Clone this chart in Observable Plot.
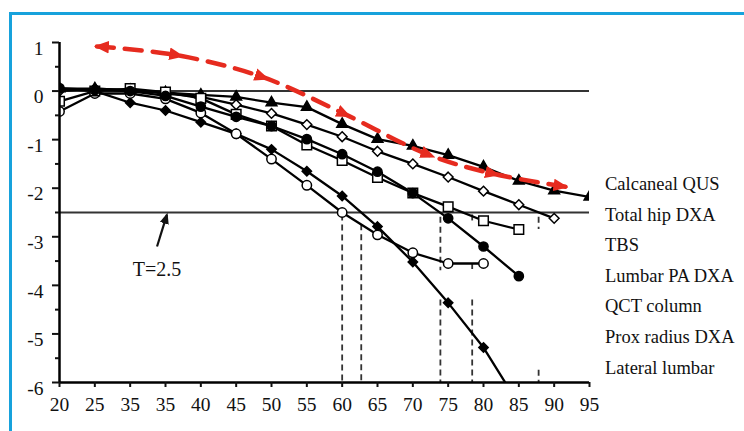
<!DOCTYPE html>
<html><head><meta charset="utf-8">
<script src="https://cdn.jsdelivr.net/npm/d3@7"></script>
<script src="https://cdn.jsdelivr.net/npm/@observablehq/plot@0.6"></script>
<style>
body{margin:0;background:#fff;}
#wrap{position:relative;width:744px;height:431px;overflow:hidden;font-family:"Liberation Serif",serif;}
#frame{position:absolute;left:9px;top:12px;width:800px;height:500px;border-left:3px solid #17a2dc;border-top:3px solid #17a2dc;}
#chart{position:absolute;left:0;top:0;}
#labels{position:absolute;left:605px;top:169px;font-size:18.5px;line-height:30.6px;color:#111;white-space:nowrap;}
</style></head><body>
<div id="wrap"><div id="frame"></div><div id="chart"></div><div id="labels"></div></div>
<script>
// ---- data ----
const ages = [20,25,30,35,40,45,50,55,60,65,70,75,80,85,90,95];
const xTickValues = [20,25,30,35,40,45,50,55,60,65,70,75,80,85,90,95];
const xTickLabels = ["20","25","35","35","40","45","50","55","60","65","70","75","80","85","90","95"];
const yTickValues = [1,0,-1,-2,-3,-4,-5,-6];
const yMinorTicks = [0.5,-0.5,-1.5,-2.5,-3.5,-4.5,-5.5];
const legendLabels = ["Calcaneal QUS","Total hip DXA","TBS","Lumbar PA DXA","QCT column","Prox radius DXA","Lateral lumbar"];

const calcanealQUS = [0.05,0.05,0.02,-0.03,-0.08,-0.12,-0.24,-0.33,-0.68,-0.99,-1.13,-1.32,-1.56,-1.85,-2.05,-2.18];
const totalHipDXA  = [0.0,0.05,0.02,-0.05,-0.12,-0.28,-0.46,-0.69,-0.94,-1.24,-1.5,-1.77,-2.06,-2.34,-2.62,null];
const tbs          = [-0.21,0.0,0.05,-0.02,-0.15,-0.48,-0.72,-1.11,-1.43,-1.78,-2.1,-2.38,-2.67,-2.85,null,null];
const lumbarPADXA  = [0.06,0.02,0.0,-0.1,-0.32,-0.53,-0.72,-0.99,-1.3,-1.66,-2.1,-2.62,-3.2,-3.81,null,null];
const proxRadius   = [-0.42,-0.05,-0.05,-0.16,-0.45,-0.88,-1.4,-1.94,-2.5,-2.96,-3.33,-3.55,-3.55,null,null,null];
const lateralLumbar= [0.05,0.0,-0.24,-0.4,-0.64,-0.88,-1.2,-1.65,-2.16,-2.79,-3.52,-4.36,-5.28,-6.45,null,null];

// red dashed trend annotation
const redAge = [25.3,36.6,48.7,60.3,72.2,81.3,91.6];
const redT   = [0.92,0.74,0.29,-0.47,-1.31,-1.70,-1.97];

// dashed verticals where curves cross T = -2.5
const dashAge    = [60,62.7,73.9,73.9,78.4,78.4,78.4,87.8,87.8];
const dashTop    = [-2.55,-2.75,-2.6,-4.3,-2.55,-3.55,-4.3,-2.6,-5.75];
const dashBottom = [-6,-6,-3.7,-6,-2.72,-3.72,-6,-2.85,-6];

const referenceLines = [0,-2.5];
const tArrowAge = [33.8], tArrowFrom = [-3.2], tArrowTo = [-2.55];
const tLabelAge = [33.8], tLabelT = [-3.67], tLabelText = ["T=2.5"];

// ---- build ----
const seriesList = [
  {name:"Total hip DXA", values: totalHipDXA, symbol:"diamond2", fill:"white", r:4.4},
  {name:"Calcaneal QUS", values: calcanealQUS, symbol:"triangle", fill:"black", r:4.0},
  {name:"Lateral lumbar", values: lateralLumbar, symbol:"diamond2", fill:"black", r:4.2},
  {name:"Prox radius DXA", values: proxRadius, symbol:"circle", fill:"white", r:4.7},
  {name:"TBS", values: tbs, symbol:"square", fill:"white", r:5.4},
  {name:"Lumbar PA DXA", values: lumbarPADXA, symbol:"circle", fill:"black", r:4.6}
];
const rows = [];
seriesList.forEach(s => s.values.forEach((v,i) => { if (v != null) rows.push({name:s.name, age:ages[i], t:v}); }));

function triMarker(refX, w) {
  return (color) => {
    const m = d3.create("svg:marker")
      .attr("viewBox","-5 -5 10 10").attr("markerUnits","userSpaceOnUse")
      .attr("markerWidth", w).attr("markerHeight", w)
      .attr("refX", refX).attr("refY", 0)
      .attr("orient","auto-start-reverse");
    m.append("path").attr("d","M-5,-4.2L5,0L-5,4.2Z").attr("fill", color).attr("stroke","none");
    return m.node();
  };
}

const redRows = redAge.map((a,i) => ({age:a, t:redT[i]}));
const dashIdx = dashAge.map((_,i) => i);

const marks = [
  Plot.ruleY(referenceLines, {stroke:"#333", strokeWidth:1.9}),
  Plot.ruleX(dashIdx, {x: i => dashAge[i], y1: i => dashTop[i], y2: i => dashBottom[i], stroke:"#333", strokeWidth:1.8, strokeDasharray:"6,4"}),
  Plot.line(rows, {x:"age", y:"t", z:"name", stroke:"#000", strokeWidth:2.3, clip:true}),
  ...seriesList.map(s => Plot.dot(rows.filter(d => d.name === s.name), {x:"age", y:"t", symbol:()=>s.symbol, r:s.r, fill:s.fill, stroke:"#000", strokeWidth:1.5, clip:true})),
  Plot.line(redRows, {x:"age", y:"t", stroke:"#e62b1f", strokeWidth:4.5, strokeDasharray:"17,11", curve:"catmull-rom",
    markerStart: triMarker(3, 15), markerMid: triMarker(0, 15), markerEnd: triMarker(3, 15)}),
  Plot.link([0], {x1: i => tArrowAge[i], y1: i => tArrowFrom[i], x2: i => tArrowAge[i] + 1.4, y2: i => tArrowTo[i], stroke:"#111", strokeWidth:2.2, markerEnd: triMarker(3, 11)}),
  Plot.text([0], {x: i => tLabelAge[i], y: i => tLabelT[i], text: i => tLabelText[i], fontSize:20, fill:"#111"}),
  Plot.ruleX([20], {stroke:"#000", strokeWidth:2.5}),
  Plot.ruleY([-6], {stroke:"#000", strokeWidth:2.5}),
  Plot.axisX({ticks: xTickValues, tickSize:5, tickPadding:10, strokeWidth:2, fontSize:19.5, label:null, tickFormat: d => xTickLabels[xTickValues.indexOf(d)]}),
  Plot.axisY({ticks: yTickValues, tickSize:7, strokeWidth:2, label:null, tickFormat: () => ""}),
  Plot.axisY({ticks: yMinorTicks, tickSize:4, strokeWidth:2, label:null, tickFormat: () => ""}),
  Plot.axisY({ticks: yTickValues, tickSize:0, tickPadding:16, dy:6, fontSize:19.5, label:null, tickFormat: d => String(d)})
];

const chart = Plot.plot({
  width: 744, height: 431,
  marginLeft: 59, marginRight: 155, marginTop: 42, marginBottom: 49,
  x: {type:"linear", domain:[20,95], label:null},
  y: {type:"linear", domain:[-6,1], label:null},
  style: {fontFamily:"Liberation Serif, serif", fontSize:"19px", color:"#111", background:"transparent"},
  marks
});
document.getElementById("chart").appendChild(chart);
document.getElementById("labels").innerHTML = legendLabels.map(l => `<div>${l}</div>`).join("");
</script>
</body></html>
